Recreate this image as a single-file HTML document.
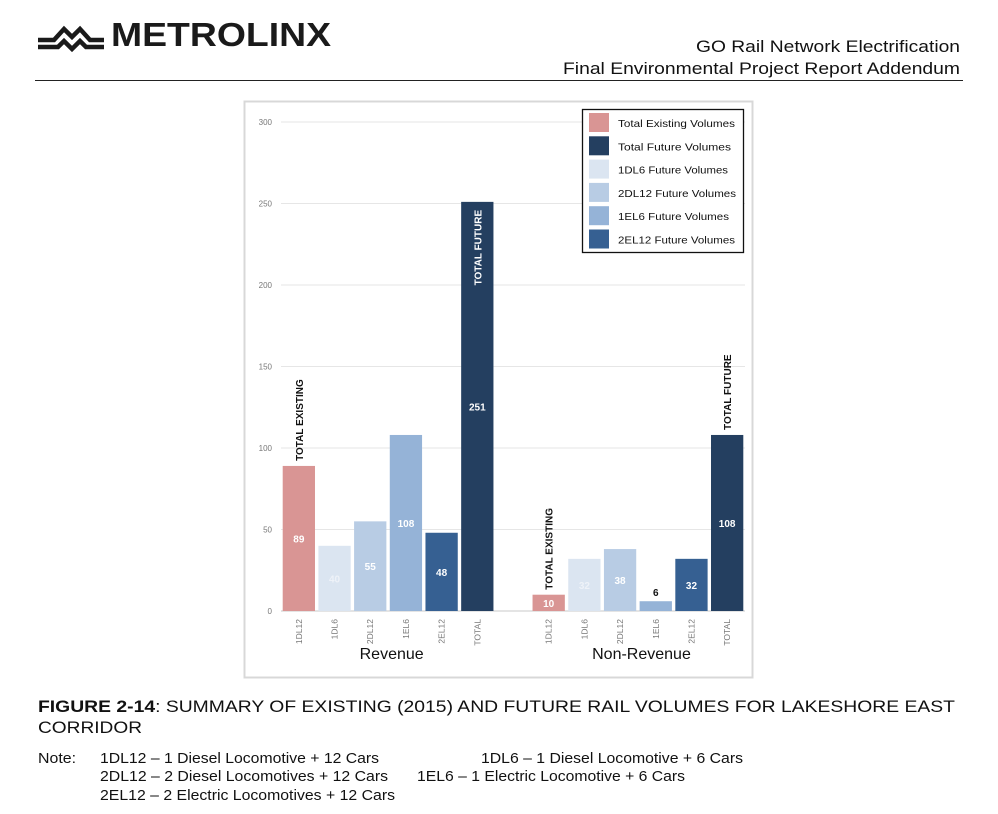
<!DOCTYPE html>
<html><head><meta charset="utf-8"><style>
body{margin:0;background:#fff;width:998px;height:814px;overflow:hidden;font-family:"Liberation Sans",sans-serif}
svg{position:absolute;left:0;top:0}
</style></head><body>
<svg width="998" height="814" viewBox="0 0 998 814" xmlns="http://www.w3.org/2000/svg" font-family="Liberation Sans, sans-serif">
<g>
<path d="M38 40 H54 L64 29 L72 37 L80 29 L90 40 H104" stroke="#1a1a1a" stroke-width="4.5" fill="none"/>
<path d="M38 47 H58 L64 41 L72 49 L80 41 L86 47 H104" stroke="#1a1a1a" stroke-width="4.5" fill="none"/>
<text x="111" y="46" font-size="33" font-weight="bold" fill="#1a1a1a" textLength="220" lengthAdjust="spacingAndGlyphs">METROLINX</text>
</g>
<text x="960" y="52" font-size="17" text-anchor="end" fill="#111" textLength="264" lengthAdjust="spacingAndGlyphs">GO Rail Network Electrification</text>
<text x="960" y="74" font-size="17" text-anchor="end" fill="#111" textLength="397" lengthAdjust="spacingAndGlyphs">Final Environmental Project Report Addendum</text>
<line x1="35" y1="80.5" x2="963" y2="80.5" stroke="#222" stroke-width="1"/>
<rect x="244.5" y="101.5" width="508" height="576" fill="#fff" stroke="#d8d8d8" stroke-width="2"/>
<g id="chart"></g>
<g font-size="17" fill="#111">
<text x="38" y="712" textLength="917" lengthAdjust="spacingAndGlyphs"><tspan font-weight="bold">FIGURE 2-14</tspan>: SUMMARY OF EXISTING (2015) AND FUTURE RAIL VOLUMES FOR LAKESHORE EAST</text>
<text x="38" y="733" textLength="104" lengthAdjust="spacingAndGlyphs">CORRIDOR</text>
</g>
<g font-size="15" fill="#111">
<text x="38" y="763" textLength="38" lengthAdjust="spacingAndGlyphs">Note:</text>
<text x="100" y="763" textLength="279" lengthAdjust="spacingAndGlyphs">1DL12 – 1 Diesel Locomotive + 12 Cars</text>
<text x="481" y="763" textLength="262" lengthAdjust="spacingAndGlyphs">1DL6 – 1 Diesel Locomotive + 6 Cars</text>
<text x="100" y="781" textLength="288" lengthAdjust="spacingAndGlyphs">2DL12 – 2 Diesel Locomotives + 12 Cars</text>
<text x="417" y="781" textLength="268" lengthAdjust="spacingAndGlyphs">1EL6 – 1 Electric Locomotive + 6 Cars</text>
<text x="100" y="800" textLength="295" lengthAdjust="spacingAndGlyphs">2EL12 – 2 Electric Locomotives + 12 Cars</text>
</g>
</svg>
<script>
const categories=["1DL12","1DL6","2DL12","1EL6","2EL12","TOTAL"];
const revenueValues=[89,40,55,108,48,251];
const nonRevenueValues=[10,32,38,6,32,108];
const yTicks=[0,50,100,150,200,250,300];
const colors=["#d99594","#dbe5f1","#b8cce4","#95b3d7","#366092","#243f60"];
const NS="http://www.w3.org/2000/svg";
const g=document.getElementById('chart');
const y0=611,yTop=122,yMax=300;
const y=v=>y0-(v/yMax)*(y0-yTop);
const left=281,right=745,nSlots=13,slot=(right-left)/nSlots;
const xs=i=>left+i*slot;
function mk(tag,attrs,txt){const e=document.createElementNS(NS,tag);for(const k in attrs)e.setAttribute(k,attrs[k]);if(txt!==undefined)e.textContent=txt;g.appendChild(e);return e;}
yTicks.forEach(t=>{
 const l=mk('line',{x1:left,x2:right,y1:y(t),y2:y(t),stroke:t===0?'#c8c8c8':'#e6e6e6','stroke-width':1});
 
 
 const tx=mk('text',{x:272,y:y(t)+3,'font-size':8,fill:'#777','text-anchor':'end'},t);
 
 
});
function group(vals,offset,name){
 vals.forEach((v,i)=>{
  const x=xs(offset+i)+1.7,w=slot-3.4,top=y(v);
  const r=mk('rect',{x:x,y:top,width:w,height:y0-top,fill:colors[i]});
  
  
  const cx=x+w/2;
  const small=(y0-top)<14;
  let ly=top+(y0-top)/2+4, lf=(i===1?'#eef2f8':'#fff');
  if(small&&i!==0){ly=top-5;lf='#111';}
  const lab=mk('text',{x:cx,y:ly,'font-size':10,'font-weight':'bold',fill:lf,'text-anchor':'middle'},v);
  
  
  const cl=mk('text',{x:0,y:0,'font-size':8.5,fill:'#777','text-anchor':'end',transform:`translate(${cx+3},${y0+8}) rotate(-90)`},categories[i]);
  
  
  if(i===0||i===5){
   const inside=(i===5&&v>200);
   const tt=i===0?'TOTAL EXISTING':'TOTAL FUTURE';
   const ty=inside?top+8:top-5;
   const a=mk('text',{x:0,y:0,'font-size':10,'font-weight':'bold',fill:inside?'#fff':'#111','text-anchor':inside?'end':'start',transform:`translate(${cx+4},${ty}) rotate(-90)`},tt);
   
   
  }
 });
}
group(revenueValues,0,'revenue');
group(nonRevenueValues,7,'non-revenue');
const g1=mk('text',{x:xs(3.1),y:659,'font-size':16,fill:'#111','text-anchor':'middle'},'Revenue');


const g2=mk('text',{x:xs(10.1),y:659,'font-size':16,fill:'#111','text-anchor':'middle'},'Non-Revenue');


const legendLabels=["Total Existing Volumes","Total Future Volumes","1DL6 Future Volumes","2DL12 Future Volumes","1EL6 Future Volumes","2EL12 Future Volumes"];
const legendColors=["#d99594","#243f60","#dbe5f1","#b8cce4","#95b3d7","#366092"];
const legendWidths=[117,113,110,118,111,117];
const lb=mk('rect',{x:582.5,y:109.5,width:161,height:143,fill:'#fff',stroke:'#111','stroke-width':1.3});


legendLabels.forEach((t,i)=>{
 const yy=113+i*23.3;
 const s=mk('rect',{x:589,y:yy,width:20,height:19,fill:legendColors[i]});
 
 
 const tx=mk('text',{x:618,y:yy+14,'font-size':10.5,fill:'#111',textLength:legendWidths[i],lengthAdjust:'spacingAndGlyphs'},t);
 
 
});
</script>
</body></html>
